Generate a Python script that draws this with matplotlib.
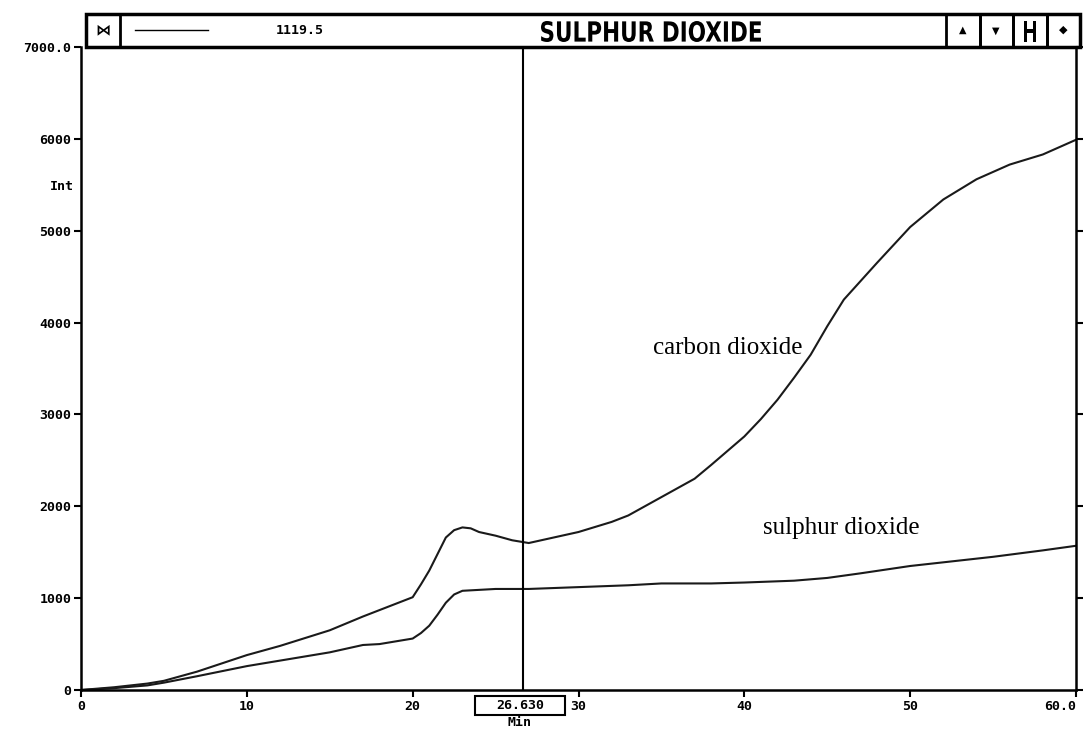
import matplotlib
matplotlib.use("Agg")
import matplotlib.pyplot as plt
from matplotlib.patches import Rectangle, PathPatch
from matplotlib.lines import Line2D
from matplotlib.textpath import TextPath
from matplotlib.font_manager import FontProperties
from matplotlib.transforms import Affine2D, IdentityTransform

# values (minutes, intensity)
minutes_co2 = [0, 2, 4, 5, 7, 10, 12, 15, 17, 18, 19, 20, 20.5, 21, 21.5, 22, 22.5, 23, 23.5, 24, 25, 26, 27, 28, 30,
               32, 33, 35, 37, 38, 40, 41, 42, 43, 44, 45, 46, 47, 48, 50, 52, 54, 56, 58, 60]
co2 = [0, 30, 70, 100, 200, 380, 480, 650, 800, 870, 940, 1010, 1150, 1300, 1480, 1660, 1740, 1770, 1760, 1720,
       1680, 1630, 1600, 1640, 1720, 1830, 1900, 2100, 2300, 2450, 2760, 2950, 3160, 3400, 3650, 3960, 4250, 4450,
       4650, 5040, 5340, 5560, 5720, 5830, 5990]

minutes_so2 = [0, 2, 4, 5, 7, 10, 12, 15, 17, 18, 20, 20.5, 21, 21.5, 22, 22.5, 23, 24, 25, 27, 30, 33, 35, 38, 40,
               43, 45, 47, 50, 52, 55, 58, 60]
so2 = [0, 20, 50, 80, 150, 260, 320, 410, 490, 500, 560, 620, 700, 820, 950, 1040, 1080, 1090, 1100, 1100, 1120,
       1140, 1160, 1160, 1170, 1190, 1220, 1270, 1350, 1390, 1450, 1520, 1570]

yticks = [0, 1000, 2000, 3000, 4000, 5000, 6000, 7000]
ylabels = ["0", "1000", "2000", "3000", "4000", "5000", "6000", "7000.0"]
xticks = [0, 10, 20, 30, 40, 50, 60]
xlabels = ["0", "10", "20", "30", "40", "50", "60.0"]
cursor = 26.63

W, H = 1087, 730
fig = plt.figure(figsize=(W / 100, H / 100), dpi=100)


def fx(px):
    return px / W


def fy(py):
    return 1 - py / H


ax = fig.add_axes([fx(81), fy(690), fx(1076) - fx(81), fy(47) - fy(690)])
ax.plot(minutes_co2, co2, color="#1a1a1a", lw=1.5)
ax.plot(minutes_so2, so2, color="#1a1a1a", lw=1.5)
ax.axvline(cursor, color="black", lw=1.5)

ax.set_xlim(0, 60)
ax.set_ylim(0, 7000)
mono = dict(family="DejaVu Sans Mono", weight="bold", size=9.5)
ax.set_yticks(yticks)
ax.set_yticklabels(ylabels, **mono)
ax.set_xticks(xticks)
ax.set_xticklabels(xlabels, **mono)
ax.get_xticklabels()[-1].set_horizontalalignment("right")
ax.tick_params(axis="both", direction="out", length=5, width=1.5, pad=2)
ax.tick_params(axis="y", right=True)
ax.spines["top"].set_visible(False)
for s in ["left", "bottom", "right"]:
    ax.spines[s].set_linewidth(1.8)

ax.text(34.5, 3720, "carbon dioxide", family="Liberation Serif", fontsize=18, va="center")
ax.text(41.1, 1760, "sulphur dioxide", family="Liberation Serif", fontsize=18, va="center")

fig.text(fx(62), fy(186), "Int", ha="center", va="center", **mono)


# header bar
def box(x0, y0, x1, y1, lw=2.0):
    fig.add_artist(Rectangle((fx(x0), fy(y1)), fx(x1) - fx(x0), fy(y0) - fy(y1),
                             transform=fig.transFigure, fill=False, lw=lw, ec="black"))


def narrow_text(s, x0, x1, ytop, ybot):
    # condensed bold lettering stretched into a pixel box
    tp = TextPath((0, 0), s, size=20, prop=FontProperties(family="DejaVu Sans", weight="bold"))
    bb = tp.get_extents()
    sx = (x1 - x0) / bb.width
    sy = (ybot - ytop) / bb.height
    tr = Affine2D().translate(-bb.x0, -bb.y0).scale(sx, sy).translate(x0, H - ybot)
    fig.add_artist(PathPatch(tp, transform=tr + IdentityTransform(), fc="black", ec="none"))


box(86, 14, 1080, 47, lw=2.5)
box(86, 14, 120, 47)
for x0, x1 in [(946, 980), (980, 1013), (1013, 1047), (1047, 1080)]:
    box(x0, 14, x1, 47)
fig.add_artist(Line2D([fx(135), fx(208)], [fy(30), fy(30)], transform=fig.transFigure, color="black", lw=1))
fig.text(fx(103), fy(30), "⋈", ha="center", va="center", fontsize=11, weight="bold")
fig.text(fx(300), fy(30), "1119.5", ha="center", va="center", **mono)
narrow_text("SULPHUR DIOXIDE", 541, 761, 21, 42)
fig.text(fx(963), fy(30), "▲", ha="center", va="center", fontsize=7)
fig.text(fx(996), fy(31), "▼", ha="center", va="center", fontsize=7)
narrow_text("H", 1024, 1036, 21, 42)
fig.text(fx(1063), fy(30), "◆", ha="center", va="center", fontsize=8)

# cursor readout
fig.add_artist(Rectangle((fx(475), fy(715)), fx(565) - fx(475), fy(696) - fy(715),
                         transform=fig.transFigure, fc="white", ec="black", lw=1.5, zorder=5))
fig.text(fx(520), fy(705.5), "26.630", ha="center", va="center", zorder=6, **mono)
fig.text(fx(519), fy(723), "Min", ha="center", va="center", **mono)

fig.savefig("out.png", dpi=100)
